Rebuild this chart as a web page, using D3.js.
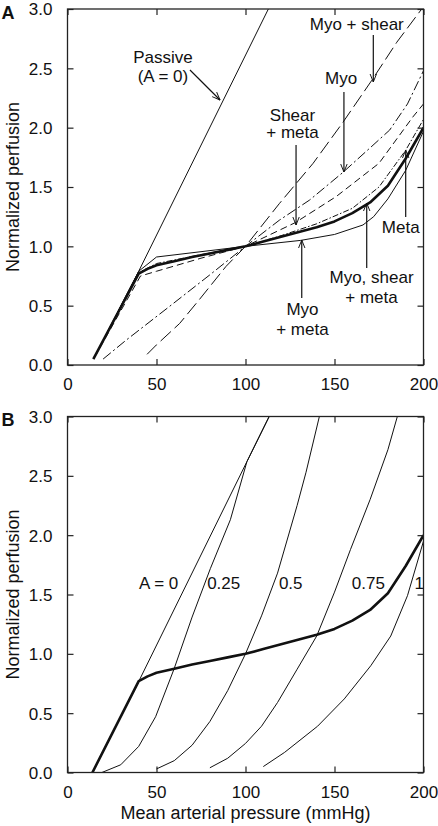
<!DOCTYPE html>
<html><head><meta charset="utf-8">
<script src="https://cdn.jsdelivr.net/npm/d3@7"></script>
<style>
body{margin:0;background:#fff}
text{font-family:"Liberation Sans",Arial,Helvetica,sans-serif;fill:#111}
</style>
</head><body>
<svg id="c" width="438" height="826"></svg>
<script>
// ---------- data ----------
const xTicks = [0, 50, 100, 150, 200];
const yTicks = [0, 0.5, 1, 1.5, 2, 2.5, 3];
const xTitle = "Mean arterial pressure (mmHg)";
const yTitle = "Normalized perfusion";

// Panel A series: [pressure, normalized perfusion]
const passiveA  = [[15,0.06],[40,0.79],[113.5,3.02]];
const myoShear  = [[44.7,0.09],[50,0.17],[63,0.35],[74,0.55],[89,0.83],[100,1.0],[119,1.36],[138,1.70],[154.5,2.04],[171,2.40],[185,2.72],[200,3.02]];
const myo       = [[20,0.05],[33,0.21],[57,0.49],[80,0.76],[100,1.0],[119,1.22],[136,1.39],[154.5,1.62],[170,1.83],[181,1.98],[191,2.2],[200,2.48]];
const shearMeta = [[15,0.06],[41,0.75],[50,0.79],[75,0.9],[100,1.0],[128,1.2],[151,1.42],[175,1.70],[194,2.09],[200,2.2]];
const meta      = [[15,0.06],[40,0.78],[50,0.855],[75,0.93],[100,1.0],[120,1.09],[140,1.19],[160,1.32],[175,1.5],[190,1.81],[200,2.07]];
const combinedA = [[14.5,0.05],[40,0.77],[45,0.81],[50,0.84],[60,0.875],[70,0.91],[80,0.94],[90,0.97],[100,1.0],[110,1.04],[120,1.08],[130,1.12],[140,1.16],[150,1.21],[160,1.28],[170,1.37],[180,1.51],[190,1.74],[200,2.0]];
const myoMeta   = [[15,0.06],[40,0.79],[50,0.91],[75,0.955],[100,1.0],[131,1.05],[150,1.1],[166,1.18],[172,1.25],[180,1.40],[190,1.64],[200,1.97]];

// Panel B series
const a0    = [[14,0],[40,0.767],[100.8,2.62],[113.3,3.0]];
const a025  = [[19.3,0],[29.9,0.065],[40,0.22],[49.5,0.47],[59.8,0.87],[70,1.31],[80.3,1.72],[91.5,2.13],[100.8,2.62],[113.3,3.0]];
const a05   = [[50,0.03],[60,0.1],[70,0.23],[80,0.43],[90,0.69],[100,1.0],[109,1.32],[118,1.68],[129,2.25],[134,2.53],[141.5,3.0]];
const a075  = [[80,0.04],[90,0.12],[100,0.245],[109,0.39],[118,0.59],[129,0.87],[140,1.15],[150,1.52],[159,1.88],[170,2.30],[180,2.72],[185.3,3.0]];
const a1    = [[110,0.05],[122,0.17],[140.5,0.39],[155.5,0.62],[170.4,0.90],[181.6,1.15],[191,1.49],[200,1.95]];
const combinedB = [[14,0],[40,0.77],[45,0.81],[50,0.84],[60,0.875],[70,0.91],[80,0.94],[90,0.97],[100,1.0],[110,1.04],[120,1.08],[130,1.12],[140,1.16],[150,1.21],[160,1.28],[170,1.37],[180,1.51],[190,1.74],[200,2.0]];

// Panel A annotations (data units): text lines with baselines, arrow from -> to
const annA = [
  {lines:["Passive","(A = 0)"], x:53.6, ys:[2.542,2.385], from:[68.8,2.486], to:[85.7,2.233]},
  {lines:["Myo + shear"], x:162.5, ys:[2.823], from:[171.8,2.78], to:[171.8,2.385]},
  {lines:["Myo"], x:153.7, ys:[2.364], from:[155.3,2.30], to:[155.3,1.626]},
  {lines:["Shear","+ meta"], x:126.4, ys:[2.059,1.91], from:[128.4,1.854], to:[128.4,1.18]},
  {lines:["Meta"], x:187.2, ys:[1.11], from:[190,1.247], to:[190,1.812]},
  {lines:["Myo, shear","+ meta"], x:170.8, ys:[0.691,0.52], from:[168.1,0.817], to:[168.1,1.365]},
  {lines:["Myo","+ meta"], x:132, ys:[0.421,0.253], from:[131.6,0.565], to:[131.6,1.053]}
];
// Panel B curve labels
const labB = [
  {t:"A = 0", x:51.2, y:1.549},
  {t:"0.25", x:87.75, y:1.549},
  {t:"0.5", x:125.4, y:1.549},
  {t:"0.75", x:169, y:1.549},
  {t:"1", x:197.6, y:1.549}
];

// ---------- drawing ----------
const svg = d3.select("#c");
const L = 67.5, R = 423.5;
const x = d3.scaleLinear().domain([0,200]).range([L,R]);
const line = (y) => d3.line().x(d=>x(d[0])).y(d=>y(d[1]));
const FS = 17, FT = 18;

svg.append("defs").append("marker")
  .attr("id","arr").attr("viewBox","0 0 10 10").attr("refX",10).attr("refY",5)
  .attr("markerWidth",8).attr("markerHeight",8).attr("markerUnits","userSpaceOnUse")
  .attr("orient","auto")
  .append("path").attr("d","M0,1 L10,5 L0,9").attr("fill","none").attr("stroke","#111").attr("stroke-width",1.2);

function panel(id, top, bottom, letter, series, showTitleX){
  const y = d3.scaleLinear().domain([0,3]).range([bottom,top]);
  const g = svg.append("g");
  svg.select("defs").append("clipPath").attr("id","clip"+id)
    .append("rect").attr("x",L).attr("y",top).attr("width",R-L).attr("height",bottom-top);
  const cg = g.append("g").attr("clip-path",`url(#clip${id})`);
  series.forEach(s=>{
    cg.append("path").attr("d",line(y)(s.data)).attr("fill","none")
      .attr("stroke","#111").attr("stroke-width",s.w||1)
      .attr("stroke-dasharray",s.dash||null).attr("stroke-linejoin","round");
  });
  g.append("rect").attr("x",L).attr("y",top).attr("width",R-L).attr("height",bottom-top)
    .attr("fill","none").attr("stroke","#222").attr("stroke-width",1.3);
  const ax = g.append("g").attr("transform",`translate(0,${bottom})`)
    .call(d3.axisBottom(x).tickValues(xTicks).tickSize(-6).tickPadding(13).tickFormat(d3.format("d")));
  const axT = g.append("g").attr("transform",`translate(0,${top})`)
    .call(d3.axisTop(x).tickValues(xTicks).tickSize(-6).tickFormat(""));
  const ay = g.append("g").attr("transform",`translate(${L},0)`)
    .call(d3.axisLeft(y).tickValues(yTicks).tickSize(-6).tickPadding(15).tickFormat(d3.format(".1f")));
  const ayR = g.append("g").attr("transform",`translate(${R},0)`)
    .call(d3.axisRight(y).tickValues(yTicks).tickSize(-6).tickFormat(""));
  [ax,axT,ay,ayR].forEach(a=>{
    a.select(".domain").remove();
    a.selectAll("line").attr("stroke","#222").attr("stroke-width",1.2);
    a.selectAll("text").attr("font-size",FS).attr("fill","#111")
      .style("font-family",'"Liberation Sans",Arial,sans-serif');
  });
  ax.selectAll("text").attr("dy","0.71em");
  ay.selectAll("text").attr("dy","0.35em");
  g.append("text").attr("transform",`translate(19,${(top+bottom)/2}) rotate(-90)`)
    .attr("text-anchor","middle").attr("font-size",FT).text(yTitle);
  g.append("text").attr("x",1.5).attr("y",top+9.5).attr("font-size",18).attr("font-weight","bold").text(letter);
  if(showTitleX){
    g.append("text").attr("x",(L+R)/2).attr("y",bottom+46.5).attr("text-anchor","middle")
      .attr("font-size",FT).text(xTitle);
  }
  return {g,y};
}

const A = panel("A", 9, 365, "A", [
  {data:passiveA},
  {data:myoShear, dash:"14,5"},
  {data:myo, dash:"10,3,2,3"},
  {data:shearMeta, dash:"7,4"},
  {data:meta, dash:"6,2,1.5,2"},
  {data:myoMeta},
  {data:combinedA, w:2.6}
], false);

annA.forEach(a=>{
  a.lines.forEach((t,i)=>{
    A.g.append("text").attr("x",x(a.x)).attr("y",A.y(a.ys[i])).attr("text-anchor","middle")
      .attr("font-size",FS).text(t);
  });
  A.g.append("line").attr("x1",x(a.from[0])).attr("y1",A.y(a.from[1]))
    .attr("x2",x(a.to[0])).attr("y2",A.y(a.to[1]))
    .attr("stroke","#111").attr("stroke-width",1.2).attr("marker-end","url(#arr)");
});

const B = panel("B", 416.5, 772.5, "B", [
  {data:a0},{data:a025},{data:a05},{data:a075},{data:a1},
  {data:combinedB, w:2.6}
], true);

labB.forEach(l=>{
  B.g.append("text").attr("x",x(l.x)).attr("y",B.y(l.y)).attr("text-anchor","middle")
    .attr("font-size",FS).text(l.t);
});
</script>
</body></html>
